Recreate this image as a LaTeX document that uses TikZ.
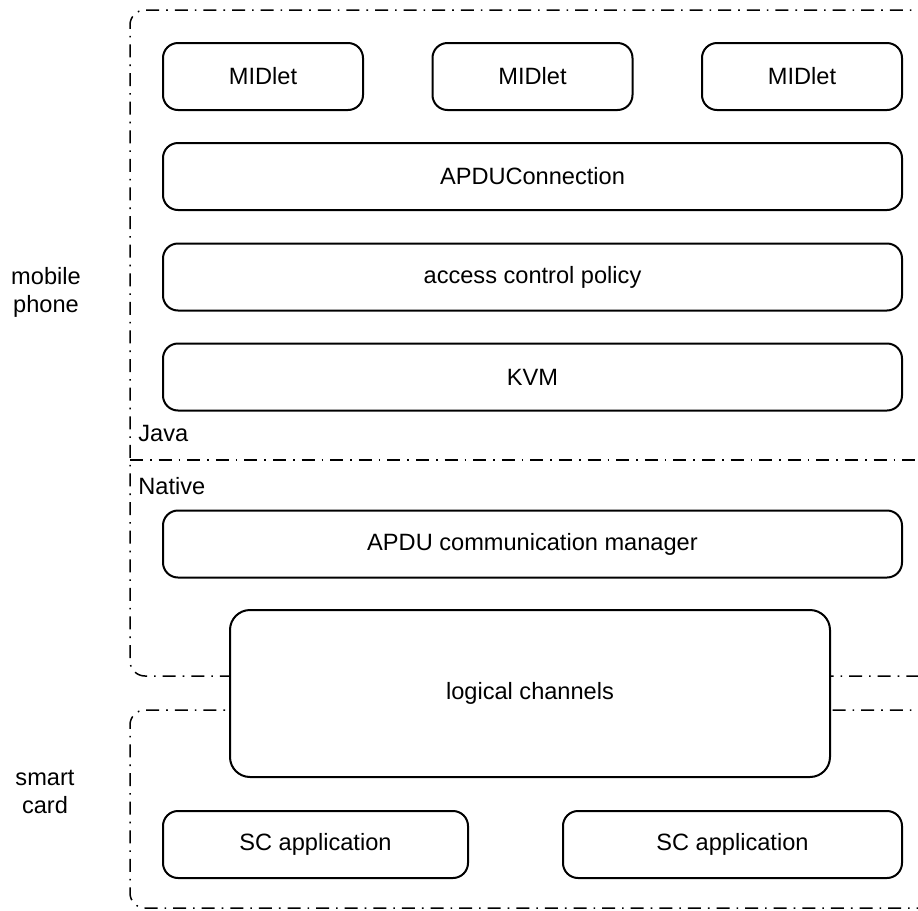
\documentclass[tikz,border=0pt]{standalone}
\usepackage{fontspec}
\setmainfont{Liberation Sans}
\usepackage{tikz}
\usetikzlibrary{calc}
\tikzset{
	layer/.style={draw, line width=1pt, rounded corners=7.5pt, fill=white,
			minimum height=33.5pt, inner sep=0pt},
	frameline/.style={line width=0.75pt, rounded corners=7.5pt,
			dash pattern=on 6.5pt off 3.5pt on 0.8pt off 3.5pt},
	side/.style={align=center, inner sep=0pt},
	tag/.style={anchor=west, inner sep=0pt}
}

\begin{document}
\begin{tikzpicture}[x=0.5pt, y=-0.5pt,
		every node/.style={font=\fontsize{11.8}{14}\selectfont}]
			\clip (0,0) rectangle (918,911);
			\fill[white] (0,0) rectangle (918,911);

			% frames of phone and card
			\draw[frameline] (960,10) -- (130,10) -- (130,676) -- (960,676);
			\draw[frameline] (960,710) -- (130,710) -- (130,908) -- (960,908);
			\draw[frameline] (130,460) -- (960,460);

			\node[layer, minimum width=100pt] (m1) at (263,76.5) {MIDlet};
			\node[layer, minimum width=100pt] (m2) at (532.5,76.5) {MIDlet};
			\node[layer, minimum width=100pt] (m3) at (802,76.5) {MIDlet};

			\node[layer, minimum width=369.5pt] (apdu) at (532.5,176.5) {APDUConnection};
			\node[layer, minimum width=369.5pt] (acp) at (532.5,277) {access control policy};
			\node[layer, minimum width=369.5pt] (kvm) at (532.5,377) {KVM};
			\node[layer, minimum width=369.5pt] (acm) at (532.5,544) {APDU communication manager};

			\node[layer, minimum width=300pt, minimum height=83.5pt, rounded corners=10pt] (lc) at (530,693.5) {logical channels};

			\node[layer, minimum width=152.5pt] (sc1) at (315.5,844.5) {SC application};
			\node[layer, minimum width=169.5pt] (sc2) at (732.5,844.5) {SC application};

			\node[tag] (java) at (138,433) {Java};
			\node[tag] (native) at (138,486) {Native};

			\node[side] (phone) at (46,292) {mobile\\phone};
			\node[side] (card) at (45,792) {smart\\card};
		\end{tikzpicture}
\end{document}
